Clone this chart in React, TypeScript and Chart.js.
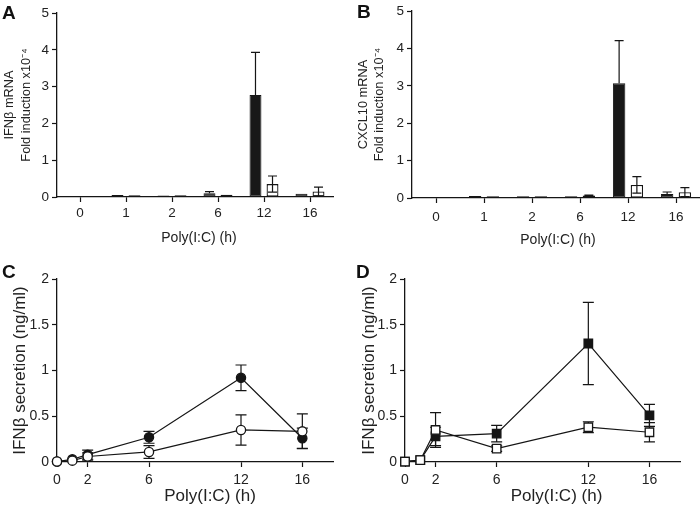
import React, { useEffect, useRef } from "react";
import { Chart, registerables } from "chart.js";
Chart.register(...registerables);

const FONT = '"Liberation Sans", Arial, Helvetica, sans-serif';
Chart.defaults.font.family = FONT;
Chart.defaults.color = "#222";

// ---- Panels A & B (bars) ----
const barCategories = ["0", "1", "2", "6", "12", "16"];
const ifnMrnaBlack = [0, 0.055, 0.04, 0.1, 2.77, 0.09];
const ifnMrnaBlackErr = [0, 0, 0, 0.045, 1.16, 0];
const ifnMrnaWhite = [0, 0.045, 0.05, 0.06, 0.35, 0.15];
const ifnMrnaWhiteErr = [0, 0, 0, 0, 0.22, 0.12];
const cxclBlack = [0, 0.055, 0.045, 0.05, 3.07, 0.105];
const cxclBlackErr = [0, 0, 0, 0, 1.14, 0.055];
const cxclWhite = [0, 0.045, 0.05, 0.07, 0.35, 0.157];
const cxclWhiteErr = [0, 0, 0, 0.01, 0.22, 0.12];
const barYTicks = [0, 1, 2, 3, 4, 5];

// ---- Panels C & D (lines) ----
const timePoints = [0, 1, 2, 6, 12, 16];
const lineXTicks = [0, 2, 6, 12, 16];
const cFilled = [0.005, 0.03, 0.08, 0.27, 0.92, 0.26];
const cFilledErr = [0, 0, 0.05, 0.065, 0.14, 0.11];
const cOpen = [0.005, 0.015, 0.06, 0.11, 0.35, 0.335];
const cOpenErr = [0, 0, 0.04, 0.07, 0.165, 0.19];
const dFilled = [0.005, 0.02, 0.28, 0.31, 1.295, 0.51];
const dFilledErr = [0, 0, 0.1, 0.09, 0.45, 0.12];
const dOpen = [0.005, 0.02, 0.35, 0.146, 0.38, 0.325];
const dOpenErr = [0, 0, 0.19, 0.03, 0.06, 0.105];
const lineYTicks = [0, 0.5, 1, 1.5, 2];

const INK = "#151515";

// errs: per dataset error arrays; upperOnly: per dataset, draw only the upper whisker
function errorBarPlugin(errs: number[][], upperOnly: boolean[], when: "before" | "after", capHalf: number) {
  const draw = (chart: any) => {
    const ctx = chart.ctx;
    const yScale = chart.scales.y;
    ctx.save();
    ctx.strokeStyle = INK;
    ctx.lineWidth = 1.2;
    errs.forEach((errArr, di) => {
      const meta = chart.getDatasetMeta(di);
      const data = chart.data.datasets[di].data;
      meta.data.forEach((el: any, i: number) => {
        const e = errArr[i];
        if (!e) return;
        const raw = data[i];
        const v = typeof raw === "number" ? raw : raw.y;
        const x = el.x;
        const yT = yScale.getPixelForValue(v + e);
        const yB = upperOnly[di] ? yScale.getPixelForValue(v) : yScale.getPixelForValue(Math.max(0, v - e));
        ctx.beginPath();
        ctx.moveTo(x, yT);
        ctx.lineTo(x, yB);
        ctx.moveTo(x - capHalf, yT);
        ctx.lineTo(x + capHalf, yT);
        if (!upperOnly[di]) {
          ctx.moveTo(x - capHalf, yB);
          ctx.lineTo(x + capHalf, yB);
        }
        ctx.stroke();
      });
    });
    ctx.restore();
  };
  return when === "before"
    ? { id: "errorBars", beforeDatasetsDraw: draw }
    : { id: "errorBars", afterDatasetsDraw: draw };
}

// shifts the x-axis title horizontally by dx pixels (the title is still drawn by the scale itself)
function shiftXTitle(dx: number) {
  return {
    id: "shiftXTitle",
    beforeDraw(chart: any) {
      const s = chart.scales.x;
      if (!s || s.__shifted) return;
      const orig = s.drawTitle.bind(s);
      s.drawTitle = function () {
        this.left += dx;
        this.right += dx;
        orig();
        this.left -= dx;
        this.right -= dx;
      };
      s.__shifted = true;
    },
  };
}

type Geo = {
  padTop: number;
  padRight: number;
  yWidth: number;
  xHeight: number;
  xTickPad: number;
  xTitlePadBottom: number;
  yTitlePadTop: number;
  xTitleShift: number;
};

function axisCommon() {
  return {
    border: { display: true, color: INK, width: 1.3 },
  };
}

const tickGrid = {
  display: true,
  drawOnChartArea: false,
  drawTicks: true,
  tickLength: 5,
  tickWidth: 1.2,
  tickColor: INK,
};

function barConfig(
  black: number[],
  blackErr: number[],
  white: number[],
  whiteErr: number[],
  yTitle: string[],
  g: Geo
): any {
  return {
    type: "bar",
    data: {
      labels: barCategories,
      datasets: [
        {
          data: black,
          backgroundColor: "#181818",
          borderColor: INK,
          borderWidth: 1,
          borderSkipped: false,
          barPercentage: 0.7,
          categoryPercentage: 0.74,
        },
        {
          data: white,
          backgroundColor: "#ffffff",
          borderColor: INK,
          borderWidth: 1.3,
          borderSkipped: false,
          barPercentage: 0.7,
          categoryPercentage: 0.74,
        },
      ],
    },
    options: {
      responsive: false,
      animation: false,
      layout: { padding: { top: g.padTop, right: g.padRight, left: 0, bottom: 0 } },
      plugins: { legend: { display: false }, tooltip: { enabled: false } },
      scales: {
        x: {
          ...axisCommon(),
          grid: { ...tickGrid, offset: false },
          ticks: { font: { size: 13.5 }, padding: g.xTickPad, color: "#222", maxRotation: 0 },
          title: {
            display: true,
            text: "Poly(I:C) (h)",
            font: { size: 14 },
            color: "#222",
            padding: { top: 0, bottom: g.xTitlePadBottom },
          },
          afterFit: (s: any) => {
            s.height = g.xHeight;
          },
        },
        y: {
          ...axisCommon(),
          min: 0,
          max: 5,
          afterBuildTicks: (axis: any) => {
            axis.ticks = barYTicks.map((v) => ({ value: v }));
          },
          grid: tickGrid,
          ticks: { font: { size: 13.5 }, padding: 3, color: "#222", callback: (v: any) => String(v) },
          title: {
            display: true,
            text: yTitle,
            font: { size: 12.8, lineHeight: 1.3 },
            color: "#222",
            padding: { top: g.yTitlePadTop, bottom: 0 },
          },
          afterFit: (s: any) => {
            s.width = g.yWidth;
          },
        },
      },
    },
    plugins: [errorBarPlugin([blackErr, whiteErr], [true, false], "after", 4.5), shiftXTitle(g.xTitleShift)],
  };
}

function lineConfig(
  filled: number[],
  filledErr: number[],
  open: number[],
  openErr: number[],
  style: "circle" | "rect",
  g: Geo
): any {
  const r = style === "circle" ? 4.6 : 6;
  const pts = (arr: number[]) => timePoints.map((t, i) => ({ x: t, y: arr[i] }));
  const ds = (arr: number[], fillColor: string) => ({
    data: pts(arr),
    borderColor: INK,
    borderWidth: 1.2,
    pointStyle: style,
    pointRadius: r,
    pointBackgroundColor: fillColor,
    pointBorderColor: INK,
    pointBorderWidth: 1.3,
    tension: 0,
    clip: false,
    fill: false,
  });
  return {
    type: "line",
    data: {
      datasets: [ds(open, "#ffffff"), ds(filled, "#151515")],
    },
    options: {
      responsive: false,
      animation: false,
      layout: { padding: { top: g.padTop, right: g.padRight, left: 0, bottom: 0 } },
      plugins: { legend: { display: false }, tooltip: { enabled: false } },
      scales: {
        x: {
          ...axisCommon(),
          type: "linear",
          min: 0,
          max: 18,
          afterBuildTicks: (axis: any) => {
            axis.ticks = lineXTicks.map((v) => ({ value: v }));
          },
          grid: tickGrid,
          ticks: { font: { size: 14 }, padding: g.xTickPad, color: "#222", maxRotation: 0, callback: (v: any) => String(v) },
          title: {
            display: true,
            text: "Poly(I:C) (h)",
            font: { size: 17, lineHeight: 1 },
            color: "#222",
            padding: { top: 0, bottom: g.xTitlePadBottom },
          },
          afterFit: (s: any) => {
            s.height = g.xHeight;
          },
        },
        y: {
          ...axisCommon(),
          min: 0,
          max: 2,
          afterBuildTicks: (axis: any) => {
            axis.ticks = lineYTicks.map((v) => ({ value: v }));
          },
          grid: tickGrid,
          ticks: { font: { size: 14 }, padding: 3, color: "#222", callback: (v: any) => String(v) },
          title: {
            display: true,
            text: "IFNβ secretion (ng/ml)",
            font: { size: 17, lineHeight: 1.2 },
            color: "#222",
            padding: { top: g.yTitlePadTop, bottom: 0 },
          },
          afterFit: (s: any) => {
            s.width = g.yWidth;
          },
        },
      },
    },
    plugins: [errorBarPlugin([openErr, filledErr], [false, false], "before", 5.5), shiftXTitle(g.xTitleShift)],
  };
}

function Panel(props: { left: number; top: number; width: number; height: number; make: () => any }) {
  const ref = useRef<HTMLCanvasElement>(null);
  useEffect(() => {
    const chart = new Chart(ref.current as HTMLCanvasElement, props.make());
    return () => chart.destroy();
  }, []);
  return (
    <canvas
      ref={ref}
      width={props.width}
      height={props.height}
      style={{ position: "absolute", left: props.left, top: props.top, width: props.width, height: props.height }}
    />
  );
}

function Label(props: { text: string; left: number; top: number }) {
  return (
    <div
      style={{
        position: "absolute",
        left: props.left,
        top: props.top,
        font: `bold 19px ${FONT}`,
        lineHeight: "19px",
        color: "#111",
      }}
    >
      {props.text}
    </div>
  );
}

export default function App() {
  const geoA: Geo = { padTop: 13, padRight: 17, yWidth: 57, xHeight: 55, xTickPad: 3, xTitlePadBottom: 5.6, yTitlePadTop: 1.5, xTitleShift: 4 };
  const geoB: Geo = { padTop: 8, padRight: 0, yWidth: 62, xHeight: 54, xTickPad: 6, xTitlePadBottom: 3.6, yTitlePadTop: 5, xTitleShift: 2 };
  const geoC: Geo = { padTop: 27, padRight: 17, yWidth: 57, xHeight: 43, xTickPad: 4.5, xTitlePadBottom: 0, yTitlePadTop: 10, xTitleShift: 15 };
  const geoD: Geo = { padTop: 27, padRight: 20, yWidth: 55, xHeight: 43, xTickPad: 4.5, xTitlePadBottom: 0, yTitlePadTop: 9, xTitleShift: 14 };
  return (
    <div style={{ position: "fixed", left: 0, top: 0, width: 700, height: 505, background: "#fff", overflow: "hidden" }}>
      <Panel
        left={0}
        top={0}
        width={350}
        height={252}
        make={() => barConfig(ifnMrnaBlack, ifnMrnaBlackErr, ifnMrnaWhite, ifnMrnaWhiteErr, ["IFNβ mRNA", "Fold induction x10⁻⁴"], geoA)}
      />
      <Panel
        left={350}
        top={0}
        width={350}
        height={252}
        make={() => barConfig(cxclBlack, cxclBlackErr, cxclWhite, cxclWhiteErr, ["CXCL10 mRNA", "Fold induction x10⁻⁴"], geoB)}
      />
      <Panel left={0} top={252} width={350} height={253} make={() => lineConfig(cFilled, cFilledErr, cOpen, cOpenErr, "circle", geoC)} />
      <Panel left={350} top={252} width={350} height={253} make={() => lineConfig(dFilled, dFilledErr, dOpen, dOpenErr, "rect", geoD)} />
      <Label text="A" left={2} top={3} />
      <Label text="B" left={357} top={2} />
      <Label text="C" left={2} top={262} />
      <Label text="D" left={356} top={262} />
    </div>
  );
}
